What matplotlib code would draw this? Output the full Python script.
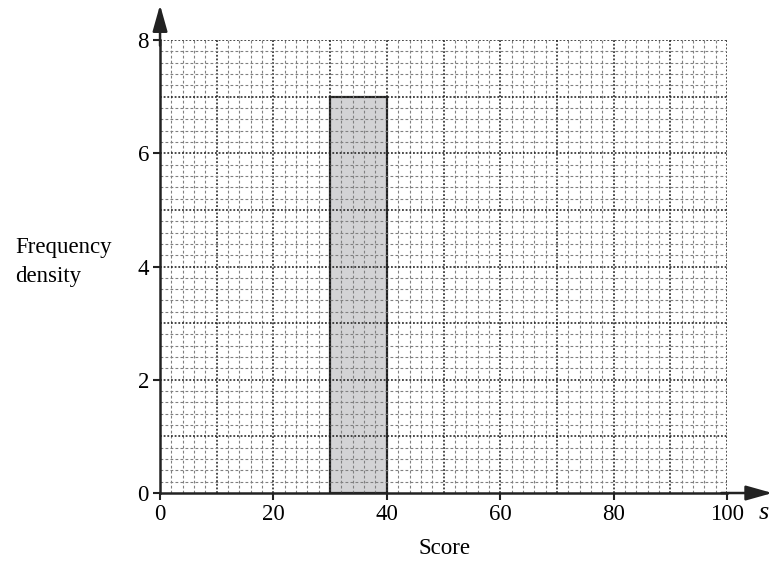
import numpy as np
import matplotlib.pyplot as plt
from matplotlib.ticker import MultipleLocator

plt.rcParams['font.family'] = ['Liberation Serif', 'DejaVu Serif']

# histogram data
bin_left = [30]
bin_width = [10]
freq_density = [7]

x_ticks = [0, 20, 40, 60, 80, 100]
y_ticks = [0, 2, 4, 6, 8]

fig = plt.figure(figsize=(7.75, 5.65), dpi=100)
ax = fig.add_axes([0.2065, 0.1274, 0.7316, 0.8018])

ax.bar(bin_left, freq_density, width=bin_width, align='edge',
       facecolor='#d3d3d5', edgecolor='#333333', linewidth=1.6, zorder=1)

ax.set_xlim(0, 100)
ax.set_ylim(0, 8)

# graph paper grid
ax.xaxis.set_minor_locator(MultipleLocator(2))
ax.yaxis.set_minor_locator(MultipleLocator(0.2))
for v in np.arange(2, 101, 2):
    major = v % 10 == 0
    ax.axvline(v, color='#1a1a1a' if major else '#808080',
               lw=1.1 if major else 0.8,
               ls=(0, (1.2, 1.2)) if major else (0, (2.5, 2)), zorder=2)
for v in np.arange(0.2, 8.01, 0.2):
    major = abs(v - round(v)) < 1e-6
    ax.axhline(v, color='#1a1a1a' if major else '#808080',
               lw=1.1 if major else 0.8,
               ls=(0, (1.2, 1.2)) if major else (0, (2.5, 2)), zorder=2)

ax.set_xticks(x_ticks)
ax.set_yticks(y_ticks)
ax.tick_params(which='minor', length=0)
ax.tick_params(which='major', direction='out', length=5, width=1.5,
               color='#222222', labelsize=16.5, pad=3)

for s in ['top', 'right']:
    ax.spines[s].set_visible(False)
for s in ['left', 'bottom']:
    ax.spines[s].set_linewidth(1.8)
    ax.spines[s].set_color('#222222')
    ax.spines[s].set_zorder(3)

# axis arrows
ax.annotate('', xy=(0, 8.62), xytext=(0, 7.9), xycoords='data',
            arrowprops=dict(arrowstyle='-|>,head_length=1.6,head_width=0.45',
                            color='#222222', lw=1.8, shrinkA=0, shrinkB=0),
            annotation_clip=False)
ax.annotate('', xy=(108, 0), xytext=(99, 0), xycoords='data',
            arrowprops=dict(arrowstyle='-|>,head_length=1.6,head_width=0.45',
                            color='#222222', lw=1.8, shrinkA=0, shrinkB=0),
            annotation_clip=False)

fig.text(15 / 775, 1 - 262 / 565, 'Frequency\ndensity', fontsize=16.5,
         ha='left', va='center', linespacing=1.45)
fig.text(444 / 775, 1 - 548 / 565, 'Score', fontsize=16.5, ha='center', va='center')
fig.text(764 / 775, 1 - 513 / 565, 's', fontsize=19, style='italic',
         ha='center', va='center')

fig.savefig('out.png', dpi=100)
